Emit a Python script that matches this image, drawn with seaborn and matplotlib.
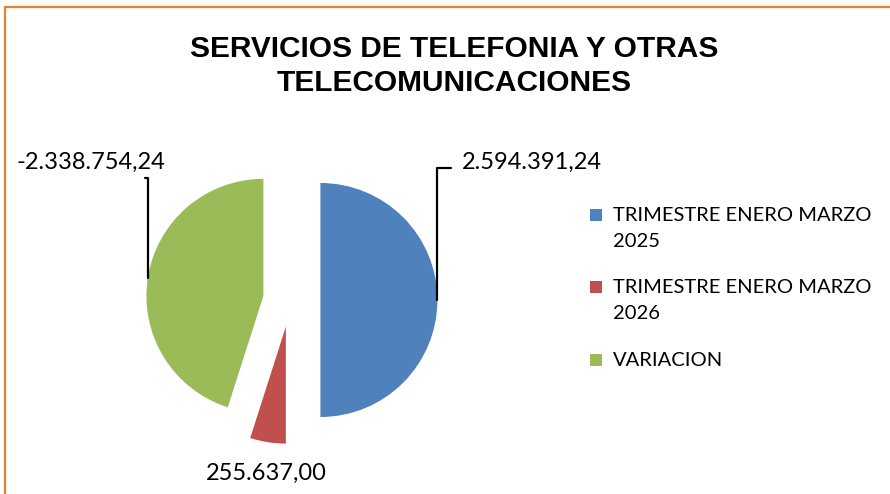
import numpy as np
import matplotlib
matplotlib.use("Agg")
import matplotlib.pyplot as plt
import seaborn as sns
from matplotlib.patches import Rectangle

# chart data
categories = ["TRIMESTRE ENERO MARZO 2025", "TRIMESTRE ENERO MARZO 2026", "VARIACION"]
legend_labels = ["TRIMESTRE ENERO MARZO\n2025", "TRIMESTRE ENERO MARZO\n2026", "VARIACION"]
values = [2594391.24, 255637.00, -2338754.24]
colors = ["#4F81BD", "#C0504D", "#9BBB59"]
explode = [0.26, 0.23, 0.23]
title = "SERVICIOS DE TELEFONIA Y OTRAS\nTELECOMUNICACIONES"


def fmt_es(v):
    s = f"{v:,.2f}"
    return s.replace(",", "X").replace(".", ",").replace("X", ".")


sns.set_theme(style="white")
plt.rcParams["font.family"] = ["Lato", "DejaVu Sans"]
plt.rcParams["text.color"] = "black"

W, H = 890, 494
fig = plt.figure(figsize=(W / 100, H / 100), dpi=100)

# orange chart frame (right and bottom run off the picture)
fig.patches.append(Rectangle((5 / W, -0.1), 1.2, 1 - 7 / H + 0.1, transform=fig.transFigure,
                             fill=False, edgecolor="#ED7D31", linewidth=1.6))

# pie axes: radius 1 -> 117 px, centre at (290, 300) px
R = 117
span = 1.6
cx, cy = 290, H - 300
ax = fig.add_axes([(cx - span * R) / W, (cy - span * R) / H, 2 * span * R / W, 2 * span * R / H])
wedges, _ = ax.pie(np.abs(values), colors=colors, startangle=90, counterclock=False,
                   explode=explode, radius=1, wedgeprops=dict(linewidth=0))
ax.set_xlim(-span, span)
ax.set_ylim(-span, span)
ax.set_aspect("equal")
ax.axis("off")


def outer_point(w):
    mid = np.deg2rad((w.theta1 + w.theta2) / 2)
    return (w.center[0] + w.r * np.cos(mid), w.center[1] + w.r * np.sin(mid))


label_kw = dict(fontsize=17, color="black", annotation_clip=False)
line_kw = dict(arrowstyle="-", color="black", lw=1.6, shrinkA=0, shrinkB=0)

# blue label with elbow leader
ax.annotate(fmt_es(values[0]), xy=outer_point(wedges[0]), xytext=(1.47, 1.18),
            ha="left", va="center",
            arrowprops=dict(**line_kw, relpos=(-0.08, 0.2),
                            connectionstyle="angle,angleA=0,angleB=90,rad=0"),
            **label_kw)
# green label with vertical leader
ax.annotate(fmt_es(values[2]), xy=outer_point(wedges[2]), xytext=(-1.7, 1.18),
            ha="center", va="center",
            arrowprops=dict(**line_kw, relpos=(0.86, -0.25),
                            connectionstyle="angle,angleA=0,angleB=90,rad=0"),
            **label_kw)
# red label, no leader
ax.annotate(fmt_es(values[1]), xy=outer_point(wedges[1]), xytext=(-0.2, -1.48),
            ha="center", va="center", **label_kw)

# title
fig.text(0.51, 1 - 66 / H, title, ha="center", va="center", fontsize=21.5,
         fontweight="bold", family=["Liberation Sans", "DejaVu Sans"],
         linespacing=1.3, color="black")

# legend
leg_y = [215, 287, 360]
for lab, col, y in zip(legend_labels, colors, leg_y):
    fig.patches.append(Rectangle((590 / W, 1 - (y + 6) / H), 12 / W, 12 / H,
                                 transform=fig.transFigure, facecolor=col, edgecolor="none"))
    fig.text(613 / W, 1 - (y - 8) / H, lab, ha="left", va="top", fontsize=14.5,
             linespacing=1.62, color="black")

fig.savefig("out.png", dpi=100)
